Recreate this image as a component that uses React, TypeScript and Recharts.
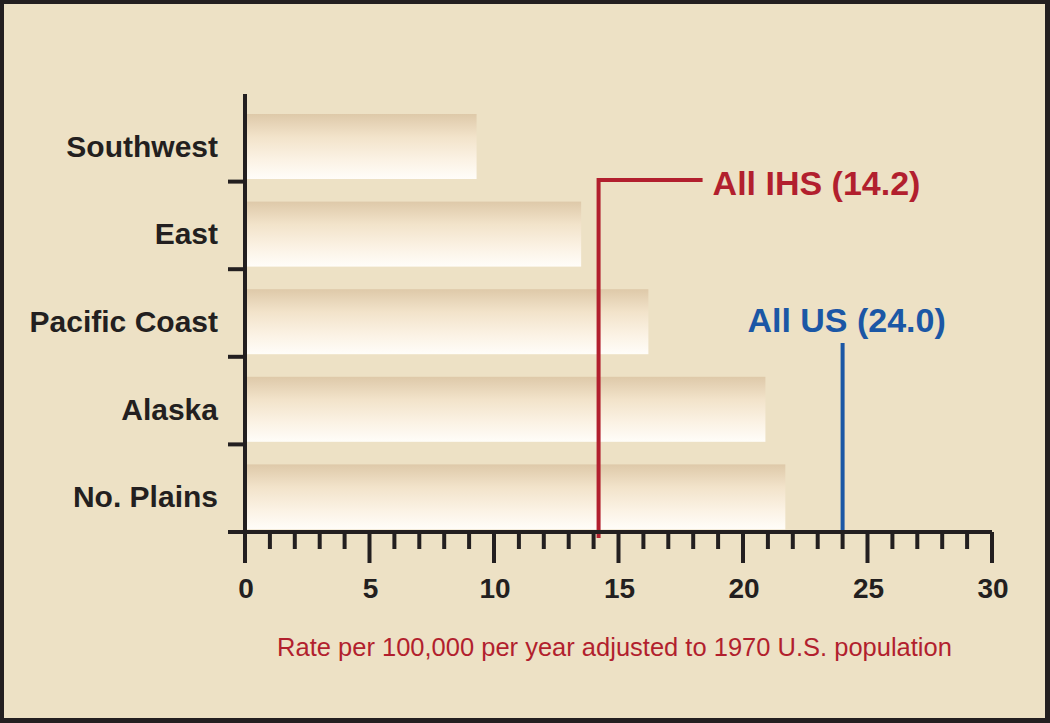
import React from "react";
import { BarChart, Bar, XAxis, YAxis, ReferenceLine, Label } from "recharts";

const REGIONS = ["Southwest", "East", "Pacific Coast", "Alaska", "No. Plains"];
const RATES = [9.3, 13.5, 16.2, 20.9, 21.7];
const X_TICKS = [
  0, 1, 2, 3, 4, 5, 6, 7, 8, 9, 10, 11, 12, 13, 14, 15, 16, 17, 18, 19, 20, 21,
  22, 23, 24, 25, 26, 27, 28, 29, 30,
];
const MAJOR_STEP = 5;
const ALL_IHS = 14.2;
const ALL_US = 24.0;
const IHS_LABEL = "All IHS (14.2)";
const US_LABEL = "All US (24.0)";
const X_TITLE = "Rate per 100,000 per year adjusted to 1970 U.S. population";

const W = 1050;
const H = 723;
const TOP = 94;
const X_AXIS_H = 191;
const BAND = (H - TOP - X_AXIS_H) / REGIONS.length;
const BAR_SHIFT = 9;

const INK = "#231F20";
const BG = "#EDE1C5";
const RED = "#B21F2E";
const BLUE = "#1B57A5";
const FONT = '"Liberation Sans", Arial, Helvetica, sans-serif';

const data = REGIONS.map((name, i) => ({ name, rate: RATES[i] }));

const YTick = (props: any) => {
  const { x, y, payload } = props;
  const edge = y + BAND / 2;
  return (
    <g>
      <line x1={x - 17} x2={x} y1={edge} y2={edge} stroke={INK} strokeWidth={4} />
      <text
        x={x - 27}
        y={y + 19}
        textAnchor="end"
        fontSize={30}
        fontWeight="bold"
        fill={INK}
        fontFamily={FONT}
      >
        {payload.value}
      </text>
    </g>
  );
};

const XTick = (props: any) => {
  const { x, y, payload } = props;
  const major = payload.value % MAJOR_STEP === 0;
  return (
    <g>
      <line x1={x} x2={x} y1={y} y2={y + (major ? 31 : 17)} stroke={INK} strokeWidth={4} />
      {major && (
        <text
          x={x + 1}
          y={y + 66}
          textAnchor="middle"
          fontSize={28}
          fontWeight="bold"
          fill={INK}
          fontFamily={FONT}
        >
          {payload.value}
        </text>
      )}
    </g>
  );
};

const BarShape = (props: any) => {
  const { x, y, width, height } = props;
  return (
    <rect
      x={x + 2}
      y={y + BAR_SHIFT}
      width={Math.max(width - 2, 0)}
      height={height}
      fill="url(#barFill)"
    />
  );
};

const IhsLine = (props: any) => {
  const { x1, y1, y2 } = props;
  const top = Math.min(y1, y2);
  const bottom = Math.max(y1, y2);
  const elbow = top + 86;
  return (
    <g>
      <path
        d={`M${x1},${bottom + 6} V${elbow} H${x1 + 104}`}
        fill="none"
        stroke={RED}
        strokeWidth={4}
      />
      <text
        x={x1 + 114}
        y={elbow + 15}
        fontSize={34}
        fontWeight="bold"
        fill={RED}
        fontFamily={FONT}
      >
        {IHS_LABEL}
      </text>
    </g>
  );
};

const UsLine = (props: any) => {
  const { x1, y1, y2 } = props;
  const top = Math.min(y1, y2);
  const bottom = Math.max(y1, y2);
  return (
    <g>
      <line x1={x1} x2={x1} y1={top + 249} y2={bottom} stroke={BLUE} strokeWidth={4} />
      <text
        x={x1 + 4}
        y={top + 238}
        textAnchor="middle"
        fontSize={34}
        fontWeight="bold"
        fill={BLUE}
        fontFamily={FONT}
      >
        {US_LABEL}
      </text>
    </g>
  );
};

export default function App() {
  return (
    <div
      style={{
        position: "absolute",
        left: 0,
        top: 0,
        width: W,
        height: H,
        background: BG,
      }}
    >
      <BarChart
        width={W}
        height={H}
        data={data}
        layout="vertical"
        margin={{ top: TOP, right: 58, bottom: 0, left: 0 }}
        barSize={65}
      >
        <defs>
          <linearGradient id="barFill" x1="0" y1="0" x2="0" y2="1">
            <stop offset="0%" stopColor="#DEC9A9" />
            <stop offset="35%" stopColor="#F2E3CA" />
            <stop offset="70%" stopColor="#FBF2E4" />
            <stop offset="100%" stopColor="#FFFDF9" />
          </linearGradient>
        </defs>
        <XAxis
          type="number"
          domain={[0, 30]}
          ticks={X_TICKS}
          interval={0}
          height={X_AXIS_H}
          tickSize={0}
          tickMargin={0}
          tickLine={false}
          tick={<XTick />}
          axisLine={{ stroke: INK, strokeWidth: 4 }}
        >
          <Label
            value={X_TITLE}
            position="insideBottom"
            offset={67}
            dx={-4}
            fill={RED}
            fontSize={25.5}
            fontFamily={FONT}
          />
        </XAxis>
        <YAxis
          type="category"
          dataKey="name"
          width={245}
          interval={0}
          tickSize={0}
          tickMargin={0}
          tickLine={false}
          tick={<YTick />}
          axisLine={{ stroke: INK, strokeWidth: 4 }}
        />
        <Bar dataKey="rate" shape={<BarShape />} isAnimationActive={false} />
        <ReferenceLine x={ALL_IHS} shape={<IhsLine />} />
        <ReferenceLine x={ALL_US} shape={<UsLine />} />
      </BarChart>
      <div
        style={{
          position: "absolute",
          inset: 0,
          borderStyle: "solid",
          borderColor: INK,
          borderWidth: "4px 5px 5px 4px",
          boxSizing: "border-box",
          pointerEvents: "none",
        }}
      />
    </div>
  );
}
